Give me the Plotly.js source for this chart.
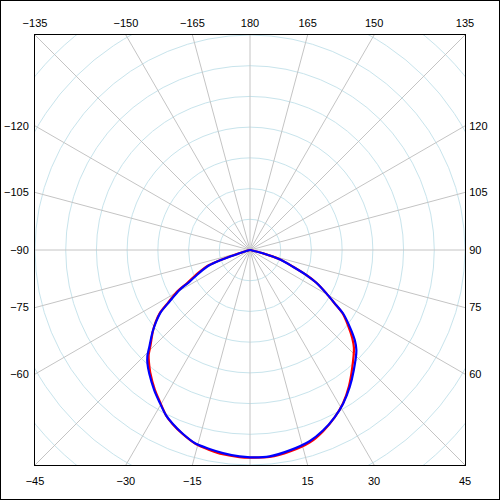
<!DOCTYPE html>
<html>
<head>
<meta charset="utf-8">
<script src="https://cdn.plot.ly/plotly-3.0.1.min.js"></script>
<style>
html,body{margin:0;padding:0;background:#fff;}
#wrap{position:absolute;left:0;top:0;width:498px;height:498px;border:1px solid #000;}
#chart{width:498px;height:498px;}
</style>
</head>
<body>
<div id="wrap"><div id="chart"></div></div>
<script>
// Pattern angles (degrees, 0 = bottom, 90 = right)
const angles = [-79,-75.5,-72.6,-71.9,-70.8,-69.5,-65.8,-62.3,-60.4,-57.3,-55.2,-52.6,-50,-46.1,-44,-42.1,-39.2,-34.3,-30.8,-26.9,-24,-20.1,-15.6,-11.5,-7.6,-2.9,0,5.4,11.2,17.3,22,26.9,31.2,36,40.8,46.7,49.3,52.4,55.7,57.8,60.4,63.7,66,68.7,72.5,75.5,78,80];
// Radii in grid-ring units
const redR  = [0,0.13,0.42,0.78,1.14,1.48,1.88,2.30,2.71,3.17,3.56,3.87,4.13,4.50,4.75,4.91,5.14,5.50,5.74,6.04,6.20,6.38,6.56,6.64,6.71,6.75,6.76,6.77,6.69,6.56,6.36,6.10,5.84,5.48,5.09,4.65,4.39,4.03,3.64,3.25,2.86,2.41,2.02,1.52,1.03,0.44,0.07,0];
const blueR = [0,0.10,0.36,0.70,1.05,1.40,1.81,2.23,2.65,3.12,3.53,3.85,4.14,4.55,4.81,4.98,5.19,5.53,5.76,6.04,6.19,6.37,6.55,6.61,6.67,6.73,6.75,6.75,6.65,6.52,6.34,6.10,5.85,5.52,5.17,4.76,4.50,4.10,3.67,3.26,2.86,2.41,2.01,1.50,1.01,0.43,0.07,0];

// Edge tick labels (angles)
const topAngles = [-135,-150,-165,180,165,150,135];
const bottomAngles = [-45,-30,-15,15,30,45];
const leftAngles = [-120,-105,-90,-75,-60];
const rightAngles = [120,105,90,75,60];

const R = 7; // half-range in ring units
const rad = d => d*Math.PI/180;
const fmt = a => (a<0 ? '\u2212'+Math.abs(a) : String(a));

const px = (r,a) => r*Math.sin(rad(a));
const py = (r,a) => -r*Math.cos(rad(a));

const traces = [
  {x: redR.map((r,i)=>px(r,angles[i])), y: redR.map((r,i)=>py(r,angles[i])), mode:'lines', line:{color:'#ff0000', width:2.2, shape:'spline', smoothing:0.7}, hoverinfo:'skip', showlegend:false},
  {x: blueR.map((r,i)=>px(r,angles[i])), y: blueR.map((r,i)=>py(r,angles[i])), mode:'lines', line:{color:'#0000ff', width:2.2, shape:'spline', smoothing:0.7}, hoverinfo:'skip', showlegend:false},
  {x:[0], y:[0], xaxis:'x2', yaxis:'y2', mode:'markers', marker:{opacity:0}, hoverinfo:'skip', showlegend:false}
];

const shapes = [];
for (let k=1;k<=10;k++){
  shapes.push({type:'circle', xref:'x', yref:'y', x0:-k, x1:k, y0:-k, y1:k, line:{color:'rgb(200,228,236)', width:1}, layer:'below'});
}
for (let a=0;a<360;a+=15){
  shapes.push({type:'line', xref:'x', yref:'y', x0:0, y0:0, x1:px(12,a), y1:py(12,a), line:{color:'rgb(196,196,196)', width:1}, layer:'below'});
}

const tf = {family:'Liberation Sans, Arial, sans-serif', size:11, color:'#000'};
const common = {range:[-R,R], showgrid:false, zeroline:false, fixedrange:true, tickfont:tf, ticks:'outside', tickcolor:'rgba(0,0,0,0)', tickmode:'array'};

const layout = {
  width:498, height:498,
  margin:{l:34, r:34, t:34, b:34, pad:0},
  paper_bgcolor:'#fff', plot_bgcolor:'#fff',
  showlegend:false,
  xaxis: Object.assign({}, common, {tickvals: bottomAngles.map(a=>R*Math.tan(rad(a))), ticktext: bottomAngles.map(fmt), ticklen:6, showline:true, mirror:true, linecolor:'#000', linewidth:1}),
  xaxis2: Object.assign({}, common, {overlaying:'x', side:'top', anchor:'y', tickvals: topAngles.map(a=>-R*Math.tan(rad(a))), ticktext: topAngles.map(fmt), ticklen:3, showline:false}),
  yaxis: Object.assign({}, common, {tickvals: leftAngles.map(a=>R*Math.cos(rad(a))/Math.sin(rad(a))), ticktext: leftAngles.map(fmt), ticklen:3, showline:true, mirror:true, linecolor:'#000', linewidth:1}),
  yaxis2: Object.assign({}, common, {overlaying:'y', side:'right', anchor:'x', tickvals: rightAngles.map(a=>-R*Math.cos(rad(a))/Math.sin(rad(a))), ticktext: rightAngles.map(fmt), ticklen:1, showline:false}),
  shapes: shapes
};

Plotly.newPlot('chart', traces, layout, {staticPlot:true, displayModeBar:false});
</script>
</body>
</html>
